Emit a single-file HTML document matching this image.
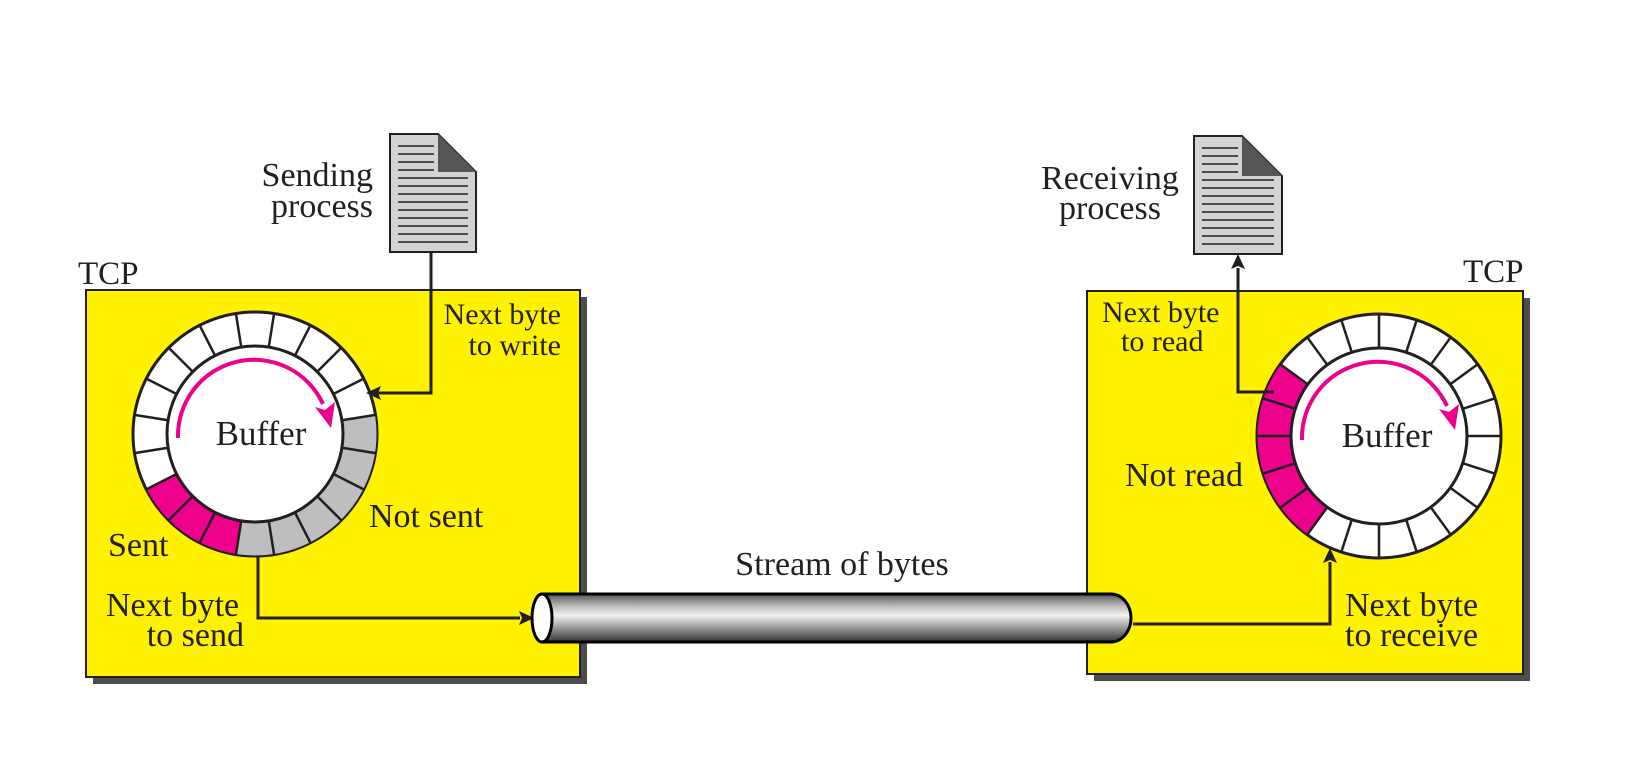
<!DOCTYPE html>
<html><head><meta charset="utf-8"><style>
html,body{margin:0;padding:0;background:#fff;}
svg{display:block;}
text{font-family:"Liberation Serif",serif;fill:#231f20;}
</style></head><body>
<svg width="1638" height="773" viewBox="0 0 1638 773" xmlns="http://www.w3.org/2000/svg">
<defs>
<linearGradient id="pipe" x1="0" y1="0" x2="0" y2="1">
<stop offset="0" stop-color="#555"/>
<stop offset="0.25" stop-color="#bbb"/>
<stop offset="0.45" stop-color="#f2f2f2"/>
<stop offset="0.7" stop-color="#999"/>
<stop offset="1" stop-color="#333"/>
</linearGradient>
</defs>

<!-- boxes -->
<rect x="93" y="297" width="494" height="387" fill="#4d4d4d"/>
<rect x="86" y="290" width="494" height="387" fill="#fff200" stroke="#231f20" stroke-width="2"/>
<rect x="1094" y="298" width="436" height="383" fill="#4d4d4d"/>
<rect x="1087" y="291" width="436" height="383" fill="#fff200" stroke="#231f20" stroke-width="2"/>

<text x="78" y="284" font-size="33">TCP</text>
<text x="1463" y="282" font-size="33">TCP</text>

<!-- documents -->
<g transform="translate(390,134)">
<polygon points="0,0 48,0 86,38 86,118 0,118" fill="#d1d3d4" stroke="#231f20" stroke-width="2"/>
<polygon points="48,0 86,38 48,38" fill="#555"/>
<g stroke="#231f20" stroke-width="1.5">
<line x1="8" y1="12" x2="44" y2="12"/><line x1="8" y1="20" x2="44" y2="20"/><line x1="8" y1="28" x2="44" y2="28"/><line x1="8" y1="36" x2="44" y2="36"/>
<line x1="8" y1="44" x2="78" y2="44"/><line x1="8" y1="52" x2="78" y2="52"/><line x1="8" y1="60" x2="78" y2="60"/><line x1="8" y1="68" x2="78" y2="68"/>
<line x1="8" y1="76" x2="78" y2="76"/><line x1="8" y1="84" x2="78" y2="84"/><line x1="8" y1="92" x2="78" y2="92"/><line x1="8" y1="100" x2="78" y2="100"/><line x1="8" y1="108" x2="78" y2="108"/>
</g></g>
<g transform="translate(1194,136)">
<polygon points="0,0 48,0 88,40 88,118 0,118" fill="#d1d3d4" stroke="#231f20" stroke-width="2"/>
<polygon points="48,0 88,40 48,40" fill="#555"/>
<g stroke="#231f20" stroke-width="1.5">
<line x1="8" y1="12" x2="44" y2="12"/><line x1="8" y1="20" x2="44" y2="20"/><line x1="8" y1="28" x2="44" y2="28"/><line x1="8" y1="36" x2="44" y2="36"/>
<line x1="8" y1="44" x2="80" y2="44"/><line x1="8" y1="52" x2="80" y2="52"/><line x1="8" y1="60" x2="80" y2="60"/><line x1="8" y1="68" x2="80" y2="68"/>
<line x1="8" y1="76" x2="80" y2="76"/><line x1="8" y1="84" x2="80" y2="84"/><line x1="8" y1="92" x2="80" y2="92"/><line x1="8" y1="100" x2="80" y2="100"/><line x1="8" y1="108" x2="80" y2="108"/>
</g></g>

<text x="373" y="186" font-size="34" text-anchor="end">Sending</text>
<text x="373" y="217" font-size="34" text-anchor="end">process</text>
<text x="1110" y="189" font-size="34" text-anchor="middle">Receiving</text>
<text x="1110" y="219" font-size="34" text-anchor="middle">process</text>

<!-- left ring -->
<g transform="translate(255,434)">
<circle r="122" fill="#fff" stroke="#231f20" stroke-width="3"/>
<circle r="105" fill="none" stroke="#bcbec0" stroke-width="33" stroke-dasharray="197.9 1000" transform="rotate(-9)"/>
<circle r="105" fill="none" stroke="#ec008c" stroke-width="33" stroke-dasharray="98.96 1000" transform="rotate(99)"/>
<circle r="88" fill="#fff" stroke="#231f20" stroke-width="3"/>
<g stroke="#231f20" stroke-width="2.5">
<line x1="0" y1="-88" x2="0" y2="-122" transform="rotate(9)"/><line x1="0" y1="-88" x2="0" y2="-122" transform="rotate(27)"/><line x1="0" y1="-88" x2="0" y2="-122" transform="rotate(45)"/><line x1="0" y1="-88" x2="0" y2="-122" transform="rotate(63)"/><line x1="0" y1="-88" x2="0" y2="-122" transform="rotate(81)"/><line x1="0" y1="-88" x2="0" y2="-122" transform="rotate(99)"/><line x1="0" y1="-88" x2="0" y2="-122" transform="rotate(117)"/><line x1="0" y1="-88" x2="0" y2="-122" transform="rotate(135)"/><line x1="0" y1="-88" x2="0" y2="-122" transform="rotate(153)"/><line x1="0" y1="-88" x2="0" y2="-122" transform="rotate(171)"/><line x1="0" y1="-88" x2="0" y2="-122" transform="rotate(189)"/><line x1="0" y1="-88" x2="0" y2="-122" transform="rotate(207)"/><line x1="0" y1="-88" x2="0" y2="-122" transform="rotate(225)"/><line x1="0" y1="-88" x2="0" y2="-122" transform="rotate(243)"/><line x1="0" y1="-88" x2="0" y2="-122" transform="rotate(261)"/><line x1="0" y1="-88" x2="0" y2="-122" transform="rotate(279)"/><line x1="0" y1="-88" x2="0" y2="-122" transform="rotate(297)"/><line x1="0" y1="-88" x2="0" y2="-122" transform="rotate(315)"/><line x1="0" y1="-88" x2="0" y2="-122" transform="rotate(333)"/><line x1="0" y1="-88" x2="0" y2="-122" transform="rotate(351)"/>
</g>
<path d="M -77 4 A 76 76 0 0 1 68 -30" fill="none" stroke="#ec008c" stroke-width="4"/>
<polygon points="76,-6 60,-27 70,-24 80,-32" fill="#ec008c"/>
</g>
<text x="261" y="445" font-size="35" text-anchor="middle">Buffer</text>

<!-- right ring -->
<g transform="translate(1379,436)">
<circle r="122" fill="#fff" stroke="#231f20" stroke-width="3"/>
<circle r="105" fill="none" stroke="#ec008c" stroke-width="33" stroke-dasharray="164.9 1000" transform="rotate(126)"/>
<circle r="88" fill="#fff" stroke="#231f20" stroke-width="3"/>
<g stroke="#231f20" stroke-width="2.5">
<line x1="0" y1="-88" x2="0" y2="-122"/><line x1="0" y1="-88" x2="0" y2="-122" transform="rotate(18)"/><line x1="0" y1="-88" x2="0" y2="-122" transform="rotate(36)"/><line x1="0" y1="-88" x2="0" y2="-122" transform="rotate(54)"/><line x1="0" y1="-88" x2="0" y2="-122" transform="rotate(72)"/><line x1="0" y1="-88" x2="0" y2="-122" transform="rotate(90)"/><line x1="0" y1="-88" x2="0" y2="-122" transform="rotate(108)"/><line x1="0" y1="-88" x2="0" y2="-122" transform="rotate(126)"/><line x1="0" y1="-88" x2="0" y2="-122" transform="rotate(144)"/><line x1="0" y1="-88" x2="0" y2="-122" transform="rotate(162)"/><line x1="0" y1="-88" x2="0" y2="-122" transform="rotate(180)"/><line x1="0" y1="-88" x2="0" y2="-122" transform="rotate(198)"/><line x1="0" y1="-88" x2="0" y2="-122" transform="rotate(216)"/><line x1="0" y1="-88" x2="0" y2="-122" transform="rotate(234)"/><line x1="0" y1="-88" x2="0" y2="-122" transform="rotate(252)"/><line x1="0" y1="-88" x2="0" y2="-122" transform="rotate(270)"/><line x1="0" y1="-88" x2="0" y2="-122" transform="rotate(288)"/><line x1="0" y1="-88" x2="0" y2="-122" transform="rotate(306)"/><line x1="0" y1="-88" x2="0" y2="-122" transform="rotate(324)"/><line x1="0" y1="-88" x2="0" y2="-122" transform="rotate(342)"/>
</g>
<path d="M -77 4 A 76 76 0 0 1 68 -30" fill="none" stroke="#ec008c" stroke-width="4"/>
<polygon points="76,-6 60,-27 70,-24 80,-32" fill="#ec008c"/>
</g>
<text x="1387" y="447" font-size="35" text-anchor="middle">Buffer</text>

<!-- connectors -->
<g fill="none" stroke="#231f20" stroke-width="3">
<polyline points="431,252 431,393 378,393"/>
<polyline points="258,556 258,618 520,618"/>
<polyline points="1133,624 1330,624 1330,562"/>
<polyline points="1274,392 1238,392 1238,268"/>
</g>
<g fill="#231f20">
<polygon points="366,393 381,386 378,393 381,400"/>
<polygon points="534,618 519,611 522,618 519,625"/>
<polygon points="1330,548 1323,563 1330,560 1337,563"/>
<polygon points="1238,254 1231,269 1238,266 1245,269"/>
</g>

<!-- pipe -->
<path d="M 542 594 L 1111 594 A 20 24 0 0 1 1111 642 L 542 642 Z" fill="url(#pipe)" stroke="#000" stroke-width="3"/>
<ellipse cx="542" cy="618" rx="10" ry="24" fill="#fff" stroke="#000" stroke-width="3"/>
<text x="842" y="575" font-size="34" text-anchor="middle">Stream of bytes</text>

<!-- labels -->
<text x="561" y="324" font-size="30" text-anchor="end">Next byte</text>
<text x="561" y="355" font-size="30" text-anchor="end">to write</text>
<text x="108" y="556" font-size="34">Sent</text>
<text x="369" y="527" font-size="34">Not sent</text>
<text x="106" y="616" font-size="34">Next byte</text>
<text x="244" y="646" font-size="34" text-anchor="end">to send</text>
<text x="1102" y="322" font-size="30">Next byte</text>
<text x="1121" y="351" font-size="30">to read</text>
<text x="1125" y="486" font-size="34">Not read</text>
<text x="1345" y="616" font-size="34">Next byte</text>
<text x="1345" y="646" font-size="34">to receive</text>
</svg>
</body></html>
